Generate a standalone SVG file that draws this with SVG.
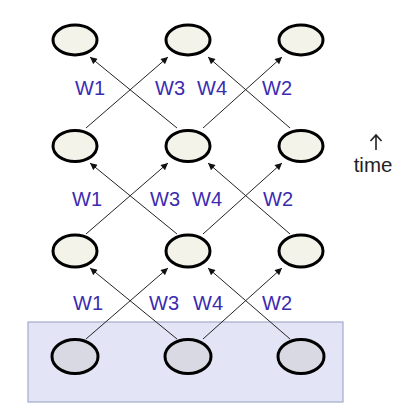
<svg xmlns="http://www.w3.org/2000/svg" width="402" height="417" viewBox="0 0 402 417">
<defs>
<marker id="ah" viewBox="0 0 10 10" refX="10" refY="5" markerWidth="8" markerHeight="7" markerUnits="userSpaceOnUse" orient="auto">
<path d="M0,0 L10,5 L0,10 z" fill="#111"/>
</marker>
<style>
.n{fill:#f3f3ea;stroke:#000;stroke-width:3}
.b{fill:#d9d9e3;stroke:#000;stroke-width:3}
.c line{stroke:#222;stroke-width:1;marker-end:url(#ah)}
.w{font-family:"Liberation Sans",Arial,sans-serif;font-size:20px;fill:#3b2bb0}
.t{font-family:"Liberation Sans",Arial,sans-serif;font-size:20.5px;fill:#222}
</style>
</defs>
<rect width="402" height="417" fill="#fff"/>
<rect id="input-band" x="28" y="322" width="315" height="80" fill="#e3e4f6" stroke="#a3abcc" stroke-width="1.2"/>
<g class="c" id="connectors">
<line x1="86" y1="128" x2="168" y2="57"/>
<line x1="177" y1="128" x2="90" y2="57"/>
<line x1="203" y1="128" x2="282" y2="57"/>
<line x1="290" y1="128" x2="208" y2="57"/>
<line x1="86" y1="234" x2="168" y2="163"/>
<line x1="177" y1="234" x2="90" y2="163"/>
<line x1="203" y1="234" x2="282" y2="163"/>
<line x1="290" y1="234" x2="208" y2="163"/>
<line x1="86" y1="339" x2="168" y2="268"/>
<line x1="177" y1="339" x2="90" y2="268"/>
<line x1="203" y1="339" x2="282" y2="268"/>
<line x1="290" y1="339" x2="208" y2="268"/>
</g>
<g id="n-1-1"><ellipse class="n" cx="75" cy="40" rx="22" ry="15"/></g>
<g id="n-1-2"><ellipse class="n" cx="188" cy="40" rx="22" ry="15"/></g>
<g id="n-1-3"><ellipse class="n" cx="301" cy="40" rx="22" ry="15"/></g>
<g id="n-2-1"><ellipse class="n" cx="75" cy="146" rx="22" ry="15.5"/></g>
<g id="n-2-2"><ellipse class="n" cx="188" cy="146" rx="22" ry="15.5"/></g>
<g id="n-2-3"><ellipse class="n" cx="301" cy="146" rx="22" ry="15.5"/></g>
<g id="n-3-1"><ellipse class="n" cx="75" cy="251" rx="22" ry="16"/></g>
<g id="n-3-2"><ellipse class="n" cx="188" cy="251" rx="22" ry="16"/></g>
<g id="n-3-3"><ellipse class="n" cx="301" cy="251" rx="22" ry="16"/></g>
<g id="n-4-1"><ellipse class="b" cx="75" cy="356.5" rx="23" ry="17"/></g>
<g id="n-4-2"><ellipse class="b" cx="188" cy="356.5" rx="23" ry="17"/></g>
<g id="n-4-3"><ellipse class="b" cx="301" cy="356.5" rx="23" ry="17"/></g>
<g id="labels">
<text class="w" x="75" y="95">W1</text>
<text class="w" x="155" y="95">W3</text>
<text class="w" x="197" y="95">W4</text>
<text class="w" x="262" y="95">W2</text>
<text class="w" x="72" y="206">W1</text>
<text class="w" x="150" y="206">W3</text>
<text class="w" x="192" y="206">W4</text>
<text class="w" x="263" y="206">W2</text>
<text class="w" x="73" y="310">W1</text>
<text class="w" x="149" y="310">W3</text>
<text class="w" x="193" y="310">W4</text>
<text class="w" x="262" y="310">W2</text>
</g>
<g id="time">
<path d="M376,150 V135 M370.5,141 L376,135 L381.5,141" fill="none" stroke="#222" stroke-width="1.6"/>
<text class="t" x="373" y="172" text-anchor="middle">time</text>
</g>
</svg>
